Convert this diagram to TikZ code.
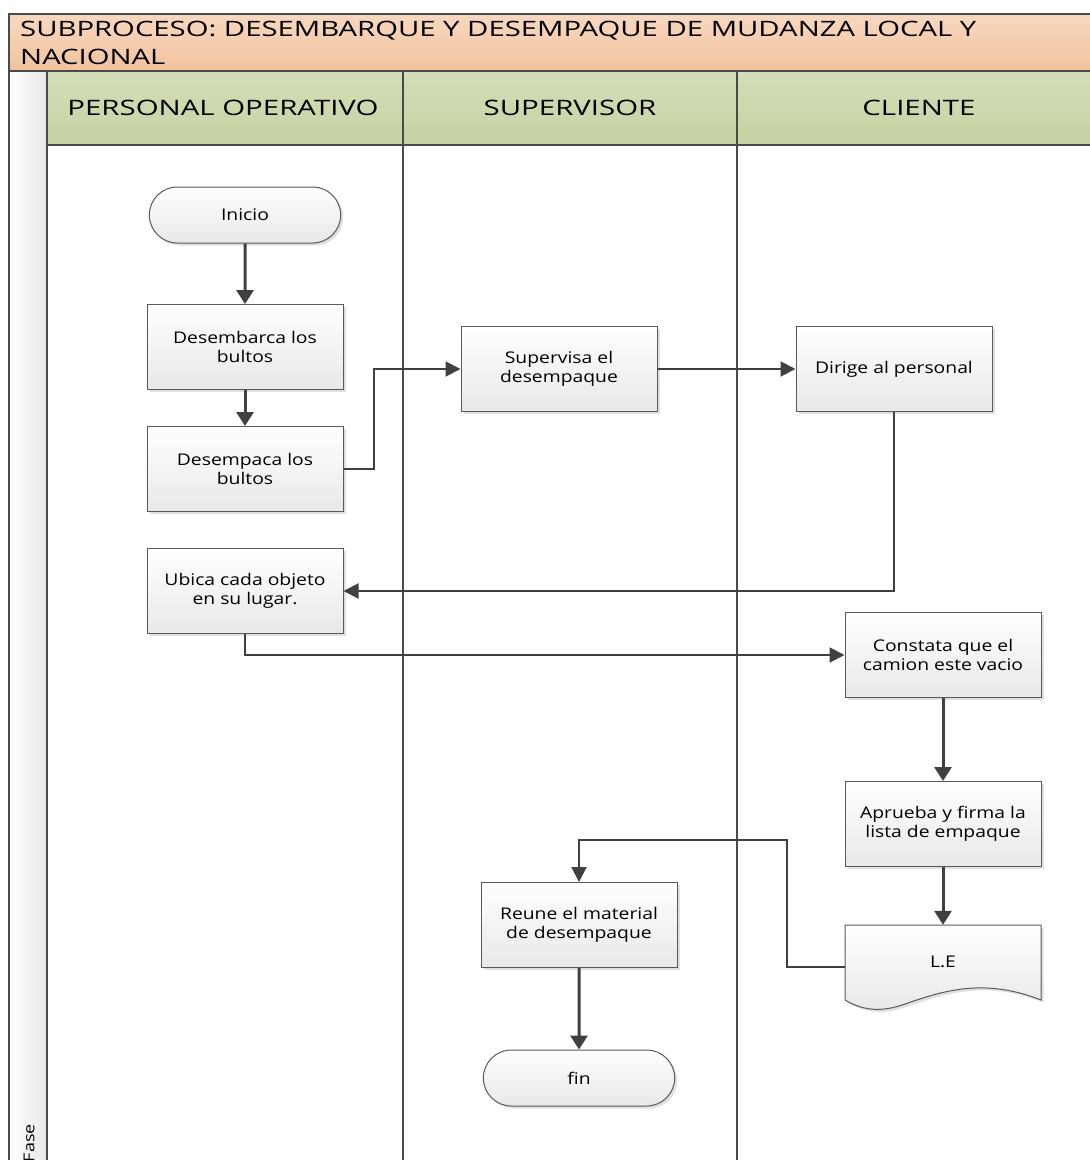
\documentclass[tikz,border=0pt]{standalone}
\usepackage{fontspec}
\setmainfont{Open Sans}
\newfontfamily\titlefont[FakeStretch=1.38]{Open Sans}
\newfontfamily\headfont[FakeStretch=1.38]{Open Sans}
\newfontfamily\boxfont[FakeStretch=1.2]{Open Sans}
\usetikzlibrary{arrows.meta,shapes.misc,shadows,calc}

\definecolor{frameline}{HTML}{4A4A4A}
\definecolor{boxline}{HTML}{5A5A5A}
\definecolor{flow}{HTML}{404040}
\definecolor{titletop}{HTML}{F8D8C0}
\definecolor{titlebot}{HTML}{F1C29E}
\definecolor{headtop}{HTML}{D4DEB8}
\definecolor{headbot}{HTML}{C6D2A2}
\definecolor{boxtop}{HTML}{FFFFFF}
\definecolor{boxbot}{HTML}{E8E8E8}

\tikzset{
  boxtext/.style={font=\boxfont\fontsize{16.1}{19.5}\selectfont, align=center, text=black},
  procbox/.style={rectangle, draw=boxline, line width=1pt, minimum width=196pt,
    minimum height=85pt, top color=boxtop, bottom color=boxbot, boxtext,
    drop shadow={shadow xshift=2.5pt, shadow yshift=-2.5pt, opacity=0.25}},
  termbox/.style={rounded rectangle, draw=boxline, line width=1pt, minimum width=198pt,
    minimum height=56pt, top color=boxtop, bottom color=boxbot, boxtext,
    drop shadow={shadow xshift=2.5pt, shadow yshift=-2.5pt, opacity=0.25}},
  mainflow/.style={draw=flow, line width=3pt, -{Triangle[length=14pt,width=17pt]}},
  sideflow/.style={draw=flow, line width=2pt, -{Triangle[length=15pt,width=15pt]}},
  lanehead/.style={font=\headfont\fontsize{21.3}{26}\selectfont, text=black},
}

\begin{document}
\begin{tikzpicture}[x=1pt,y=-1pt]
\useasboundingbox (0,0) rectangle (1090,1160);
\clip (0,0) rectangle (1090,1160);

% title band
\shade[top color=titletop, bottom color=titlebot] (9,14) rectangle (1092,71);
\node[anchor=west, inner sep=0pt, align=left, font=\titlefont\fontsize{21.2}{28}\selectfont]
  (title) at (20,43) {SUBPROCESO: DESEMBARQUE Y DESEMPAQUE DE MUDANZA LOCAL Y\\NACIONAL};

% lane header band and phase column
\shade[top color=headtop, bottom color=headbot] (47,71) rectangle (1092,145);
\shade[left color=white, right color=black!9] (9,71) rectangle (47,1162);

\node[lanehead] (hoper) at (223,108) {PERSONAL OPERATIVO};
\node[lanehead] (hsup)  at (570,108) {SUPERVISOR};
\node[lanehead] (hcli)  at (919,108) {CLIENTE};

\node[rotate=90, inner sep=0pt, font=\boxfont\fontsize{15}{18}\selectfont] (fase) at (29,1143) {Fase};

% frame and lane lines
\draw[frameline, line width=2pt] (9,1162) -- (9,14) -- (1092,14);
\draw[frameline, line width=2pt] (9,71) -- (1092,71);
\draw[frameline, line width=2pt] (47,145) -- (1092,145);
\foreach \lx in {47,403,737}
  \draw[frameline, line width=2pt] (\lx,71) -- (\lx,1162);

% document symbol for the packing list
\shade[top color=boxtop, bottom color=boxbot, draw=boxline, line width=1pt,
  drop shadow={shadow xshift=2.5pt, shadow yshift=-2.5pt, opacity=0.25}]
  (845,925) -- (1041,925) -- (1041,1000)
  .. controls (985,978) and (945,990) .. (905,1004)
  .. controls (880,1013) and (862,1010) .. (845,1000) -- cycle;

% process steps
\node[termbox] (inicio)   at (245,215)  {Inicio};
\node[procbox] (desemb)   at (245,347)  {Desembarca los\\bultos};
\node[procbox] (desemp)   at (245,469)  {Desempaca los\\bultos};
\node[procbox] (ubica)    at (245,591)  {Ubica cada objeto\\en su lugar.};
\node[procbox] (superv)   at (559,369)  {Supervisa el\\desempaque};
\node[procbox] (dirige)   at (894,369)  {Dirige al personal};
\node[procbox] (constata) at (943,655)  {Constata que el\\camion este vacio};
\node[procbox] (aprueba)  at (943,824)  {Aprueba y firma la\\lista de empaque};
\node[boxtext, minimum width=196pt, minimum height=84pt] (le) at (943,967) {\raisebox{10pt}{L.E}};
\node[procbox] (reune)    at (579,925)  {Reune el material\\de desempaque};
\node[termbox] (fin)      at (579,1078) {fin};

\coordinate (leturn) at (787,840);

% connectors
\draw[mainflow] (inicio) -- (desemb);
\draw[mainflow] (desemb) -- (desemp);
\draw[sideflow] (desemp.east) -- ++(30,0) |- (superv.west);
\draw[sideflow] (superv) -- (dirige);
\draw[sideflow] (dirige.south) |- (ubica.east);
\draw[sideflow] (ubica.south) |- (constata.west);
\draw[mainflow] (constata) -- (aprueba);
\draw[mainflow] (aprueba) -- (le.north);
\draw[sideflow] (le.west) -| (leturn) -| (reune.north);
\draw[mainflow] (reune) -- (fin);
\end{tikzpicture}
\end{document}
